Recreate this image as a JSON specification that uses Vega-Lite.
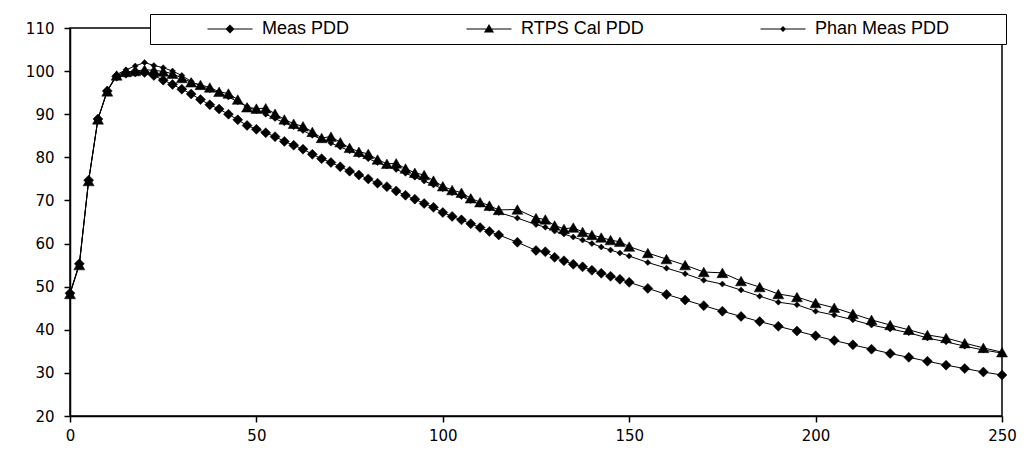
{
  "$schema": "https://vega.github.io/schema/vega-lite/v6.json",
  "width": 932,
  "height": 388,
  "autosize": "none",
  "padding": {"left": 70, "top": 28, "right": 24, "bottom": 41},
  "background": "white",
  "config": {
    "view": {"stroke": "black", "strokeWidth": 1.5},
    "axis": {
      "labelFont": "DejaVu Sans",
      "labelFontSize": 15,
      "labelColor": "black",
      "domainColor": "black",
      "domainWidth": 1.5,
      "tickColor": "black",
      "tickWidth": 1.5,
      "tickSize": 6,
      "grid": false,
      "labelFlush": false,
      "title": null
    },
    "axisX": {"labelPadding": 6},
    "axisY": {"labelPadding": 10}
  },
  "data": {
    "values": [
      {"d": 0, "Meas PDD": 48.5, "RTPS Cal PDD": 48.3, "Phan Meas PDD": 48.4},
      {"d": 2.5, "Meas PDD": 55.3, "RTPS Cal PDD": 55.0, "Phan Meas PDD": 55.2},
      {"d": 5, "Meas PDD": 74.7, "RTPS Cal PDD": 74.5, "Phan Meas PDD": 74.6},
      {"d": 7.5, "Meas PDD": 88.9, "RTPS Cal PDD": 88.8, "Phan Meas PDD": 88.9},
      {"d": 10, "Meas PDD": 95.4, "RTPS Cal PDD": 95.3, "Phan Meas PDD": 95.5},
      {"d": 12.5, "Meas PDD": 98.8, "RTPS Cal PDD": 99.0, "Phan Meas PDD": 99.2},
      {"d": 15, "Meas PDD": 99.5, "RTPS Cal PDD": 99.8, "Phan Meas PDD": 100.3},
      {"d": 17.5, "Meas PDD": 99.8, "RTPS Cal PDD": 100.0, "Phan Meas PDD": 101.2},
      {"d": 20, "Meas PDD": 99.7, "RTPS Cal PDD": 100.3, "Phan Meas PDD": 102.0},
      {"d": 22.5, "Meas PDD": 99.0, "RTPS Cal PDD": 100.2, "Phan Meas PDD": 101.3},
      {"d": 25, "Meas PDD": 97.9, "RTPS Cal PDD": 99.9, "Phan Meas PDD": 100.8},
      {"d": 27.5, "Meas PDD": 96.9, "RTPS Cal PDD": 99.4, "Phan Meas PDD": 100.0},
      {"d": 30, "Meas PDD": 95.8, "RTPS Cal PDD": 98.4, "Phan Meas PDD": 99.0},
      {"d": 32.5, "Meas PDD": 94.7, "RTPS Cal PDD": 97.4, "Phan Meas PDD": 97.6},
      {"d": 35, "Meas PDD": 93.4, "RTPS Cal PDD": 96.8, "Phan Meas PDD": 96.6},
      {"d": 37.5, "Meas PDD": 92.2, "RTPS Cal PDD": 96.2, "Phan Meas PDD": 95.7},
      {"d": 40, "Meas PDD": 91.2, "RTPS Cal PDD": 95.2, "Phan Meas PDD": 95.0},
      {"d": 42.5, "Meas PDD": 90.0, "RTPS Cal PDD": 94.8, "Phan Meas PDD": 94.0},
      {"d": 45, "Meas PDD": 88.7, "RTPS Cal PDD": 93.4, "Phan Meas PDD": 92.9},
      {"d": 47.5, "Meas PDD": 87.4, "RTPS Cal PDD": 91.6, "Phan Meas PDD": 91.8},
      {"d": 50, "Meas PDD": 86.5, "RTPS Cal PDD": 91.3, "Phan Meas PDD": 90.8},
      {"d": 52.5, "Meas PDD": 85.7, "RTPS Cal PDD": 91.4, "Phan Meas PDD": 90.0},
      {"d": 55, "Meas PDD": 84.8, "RTPS Cal PDD": 90.1, "Phan Meas PDD": 89.0},
      {"d": 57.5, "Meas PDD": 83.7, "RTPS Cal PDD": 88.8, "Phan Meas PDD": 88.0},
      {"d": 60, "Meas PDD": 82.8, "RTPS Cal PDD": 87.8, "Phan Meas PDD": 87.1},
      {"d": 62.5, "Meas PDD": 81.9, "RTPS Cal PDD": 87.2, "Phan Meas PDD": 86.2},
      {"d": 65, "Meas PDD": 80.7, "RTPS Cal PDD": 85.9, "Phan Meas PDD": 85.1},
      {"d": 67.5, "Meas PDD": 79.7, "RTPS Cal PDD": 84.5, "Phan Meas PDD": 84.2},
      {"d": 70, "Meas PDD": 78.8, "RTPS Cal PDD": 84.8, "Phan Meas PDD": 83.3},
      {"d": 72.5, "Meas PDD": 77.8, "RTPS Cal PDD": 83.5, "Phan Meas PDD": 82.4},
      {"d": 75, "Meas PDD": 76.8, "RTPS Cal PDD": 82.2, "Phan Meas PDD": 81.5},
      {"d": 77.5, "Meas PDD": 75.9, "RTPS Cal PDD": 81.3, "Phan Meas PDD": 80.6},
      {"d": 80, "Meas PDD": 75.0, "RTPS Cal PDD": 80.8, "Phan Meas PDD": 79.7},
      {"d": 82.5, "Meas PDD": 74.0, "RTPS Cal PDD": 79.5, "Phan Meas PDD": 78.8},
      {"d": 85, "Meas PDD": 73.2, "RTPS Cal PDD": 78.5, "Phan Meas PDD": 78.0},
      {"d": 87.5, "Meas PDD": 72.2, "RTPS Cal PDD": 78.6, "Phan Meas PDD": 77.2},
      {"d": 90, "Meas PDD": 71.2, "RTPS Cal PDD": 77.4, "Phan Meas PDD": 76.3},
      {"d": 92.5, "Meas PDD": 70.3, "RTPS Cal PDD": 76.4, "Phan Meas PDD": 75.4},
      {"d": 95, "Meas PDD": 69.3, "RTPS Cal PDD": 75.9, "Phan Meas PDD": 74.5},
      {"d": 97.5, "Meas PDD": 68.4, "RTPS Cal PDD": 74.6, "Phan Meas PDD": 73.6},
      {"d": 100, "Meas PDD": 67.2, "RTPS Cal PDD": 73.3, "Phan Meas PDD": 72.7},
      {"d": 102.5, "Meas PDD": 66.3, "RTPS Cal PDD": 72.4, "Phan Meas PDD": 71.8},
      {"d": 105, "Meas PDD": 65.5, "RTPS Cal PDD": 71.8, "Phan Meas PDD": 70.9},
      {"d": 107.5, "Meas PDD": 64.6, "RTPS Cal PDD": 70.5, "Phan Meas PDD": 70.0},
      {"d": 110, "Meas PDD": 63.7, "RTPS Cal PDD": 69.6, "Phan Meas PDD": 69.1},
      {"d": 112.5, "Meas PDD": 62.8, "RTPS Cal PDD": 68.8, "Phan Meas PDD": 68.2},
      {"d": 115, "Meas PDD": 62.0, "RTPS Cal PDD": 67.8, "Phan Meas PDD": 67.2},
      {"d": 120, "Meas PDD": 60.3, "RTPS Cal PDD": 67.9, "Phan Meas PDD": 65.9},
      {"d": 125, "Meas PDD": 58.4, "RTPS Cal PDD": 65.9, "Phan Meas PDD": 64.4},
      {"d": 127.5, "Meas PDD": 58.1, "RTPS Cal PDD": 65.6, "Phan Meas PDD": 63.8},
      {"d": 130, "Meas PDD": 56.8, "RTPS Cal PDD": 64.2, "Phan Meas PDD": 62.9},
      {"d": 132.5, "Meas PDD": 56.0, "RTPS Cal PDD": 63.4, "Phan Meas PDD": 62.2},
      {"d": 135, "Meas PDD": 55.2, "RTPS Cal PDD": 63.7, "Phan Meas PDD": 61.5},
      {"d": 137.5, "Meas PDD": 54.6, "RTPS Cal PDD": 62.7, "Phan Meas PDD": 60.8},
      {"d": 140, "Meas PDD": 53.8, "RTPS Cal PDD": 62.0, "Phan Meas PDD": 60.0},
      {"d": 142.5, "Meas PDD": 53.1, "RTPS Cal PDD": 61.4, "Phan Meas PDD": 59.2},
      {"d": 145, "Meas PDD": 52.4, "RTPS Cal PDD": 60.8, "Phan Meas PDD": 58.5},
      {"d": 147.5, "Meas PDD": 51.7, "RTPS Cal PDD": 60.4, "Phan Meas PDD": 57.8},
      {"d": 150, "Meas PDD": 51.0, "RTPS Cal PDD": 59.3, "Phan Meas PDD": 57.1},
      {"d": 155, "Meas PDD": 49.6, "RTPS Cal PDD": 57.8, "Phan Meas PDD": 55.6},
      {"d": 160, "Meas PDD": 48.2, "RTPS Cal PDD": 56.4, "Phan Meas PDD": 54.3},
      {"d": 165, "Meas PDD": 46.9, "RTPS Cal PDD": 55.0, "Phan Meas PDD": 53.0},
      {"d": 170, "Meas PDD": 45.6, "RTPS Cal PDD": 53.4, "Phan Meas PDD": 51.5},
      {"d": 175, "Meas PDD": 44.3, "RTPS Cal PDD": 53.2, "Phan Meas PDD": 50.6},
      {"d": 180, "Meas PDD": 43.1, "RTPS Cal PDD": 51.3, "Phan Meas PDD": 49.2},
      {"d": 185, "Meas PDD": 41.9, "RTPS Cal PDD": 49.9, "Phan Meas PDD": 47.8},
      {"d": 190, "Meas PDD": 40.8, "RTPS Cal PDD": 48.3, "Phan Meas PDD": 46.4},
      {"d": 195, "Meas PDD": 39.7, "RTPS Cal PDD": 47.6, "Phan Meas PDD": 45.8},
      {"d": 200, "Meas PDD": 38.6, "RTPS Cal PDD": 46.2, "Phan Meas PDD": 44.3},
      {"d": 205, "Meas PDD": 37.5, "RTPS Cal PDD": 45.1, "Phan Meas PDD": 43.4},
      {"d": 210, "Meas PDD": 36.5, "RTPS Cal PDD": 43.7, "Phan Meas PDD": 42.3},
      {"d": 215, "Meas PDD": 35.5, "RTPS Cal PDD": 42.3, "Phan Meas PDD": 41.1},
      {"d": 220, "Meas PDD": 34.5, "RTPS Cal PDD": 41.1, "Phan Meas PDD": 40.2},
      {"d": 225, "Meas PDD": 33.6, "RTPS Cal PDD": 40.0, "Phan Meas PDD": 39.3},
      {"d": 230, "Meas PDD": 32.7, "RTPS Cal PDD": 38.8, "Phan Meas PDD": 38.1},
      {"d": 235, "Meas PDD": 31.8, "RTPS Cal PDD": 38.1, "Phan Meas PDD": 37.2},
      {"d": 240, "Meas PDD": 31.0, "RTPS Cal PDD": 36.9, "Phan Meas PDD": 36.2},
      {"d": 245, "Meas PDD": 30.2, "RTPS Cal PDD": 35.8, "Phan Meas PDD": 35.3},
      {"d": 250, "Meas PDD": 29.5, "RTPS Cal PDD": 34.8, "Phan Meas PDD": 34.6}
    ]
  },
  "transform": [
    {"fold": ["Meas PDD", "RTPS Cal PDD", "Phan Meas PDD"], "as": ["series", "pdd"]}
  ],
  "encoding": {
    "x": {
      "field": "d",
      "type": "quantitative",
      "scale": {"domain": [0, 250], "nice": false, "zero": false},
      "axis": {"values": [0, 50, 100, 150, 200, 250]}
    },
    "y": {
      "field": "pdd",
      "type": "quantitative",
      "scale": {"domain": [20, 110], "nice": false, "zero": false},
      "axis": {"values": [20, 30, 40, 50, 60, 70, 80, 90, 100, 110]}
    }
  },
  "layer": [
    {
      "mark": {"type": "line", "color": "black", "strokeWidth": 1},
      "encoding": {"detail": {"field": "series", "type": "nominal"}}
    },
    {
      "mark": {"type": "point", "filled": true, "color": "black", "opacity": 1, "stroke": "black", "strokeWidth": 0.5},
      "encoding": {
        "shape": {
          "condition": {"test": "datum.series === 'RTPS Cal PDD'", "value": "triangle-up"},
          "value": "diamond"
        },
        "size": {
          "condition": [
            {"test": "datum.series === 'Phan Meas PDD'", "value": 36},
            {"test": "datum.series === 'RTPS Cal PDD'", "value": 121}
          ],
          "value": 100
        }
      }
    },
    {
      "transform": [{"filter": "false"}],
      "mark": {"type": "point", "filled": true, "color": "black", "opacity": 1, "size": 225},
      "encoding": {
        "shape": {
          "field": "series",
          "type": "nominal",
          "scale": {
            "domain": ["Meas PDD", "RTPS Cal PDD", "Phan Meas PDD"],
            "range": [
              "M-3,-0.075L3,-0.075L3,0.075L-3,0.075ZM0,-0.6L0.6,0L0,0.6L-0.6,0Z",
              "M-3,-0.075L3,-0.075L3,0.075L-3,0.075ZM0,-0.67L0.67,0.47L-0.67,0.47Z",
              "M-3,-0.075L3,-0.075L3,0.075L-3,0.075ZM0,-0.4L0.4,0L0,0.4L-0.4,0ZM28.9,0"
            ]
          },
          "legend": {
            "orient": "none",
            "legendX": 80,
            "legendY": -14,
            "direction": "horizontal",
            "columns": 3,
            "gridAlign": "each",
            "columnPadding": 116,
            "title": " ",
            "titleOrient": "left",
            "titleFontSize": 11,
            "titlePadding": 65,
            "strokeColor": "black",
            "fillColor": "white",
            "padding": 6,
            "labelFont": "Liberation Sans",
            "labelFontSize": 18,
            "labelColor": "black",
            "labelOffset": 23,
            "symbolSize": 225,
            "symbolOpacity": 1,
            "symbolFillColor": "black",
            "symbolStrokeColor": "black",
            "symbolStrokeWidth": 0
          }
        }
      }
    }
  ]
}
